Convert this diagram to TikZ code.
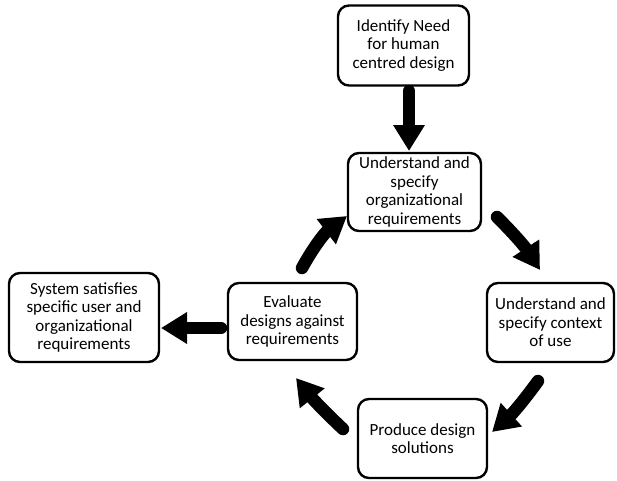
\documentclass[tikz,border=0pt]{standalone}
\usepackage{fontspec}
\setmainfont{Carlito}
\usetikzlibrary{arrows.meta}

\begin{document}
\begin{tikzpicture}[x=1pt,y=-1pt,
  stage/.style={draw=black, line width=2.4pt, rounded corners=11pt, fill=white,
    align=center, inner sep=2pt,
    font=\fontsize{17}{18.6}\selectfont},
  flow/.style={line width=12.5pt, line cap=round, draw=black,
    -{Triangle[length=26pt, width=30pt]}}]

  \useasboundingbox (0,0) rectangle (617,480);

  % process stages
  \node[stage, minimum width=131pt, minimum height=80pt] (need) at (403.5,45.5)
    {Identify Need\\for human\\centred design};
  \node[stage, minimum width=133pt, minimum height=78pt] (org) at (414.5,192)
    {Understand and\\specify\\organizational\\requirements};
  \node[stage, minimum width=127pt, minimum height=79pt] (ctx) at (550.5,322.5)
    {Understand and\\specify context\\of use};
  \node[stage, minimum width=129pt, minimum height=79pt] (prod) at (422.5,438.5)
    {Produce design\\solutions};
  \node[stage, minimum width=129pt, minimum height=77pt] (eval) at (292.5,321.5)
    {Evaluate\\designs against\\requirements};
  \node[stage, minimum width=150pt, minimum height=89pt] (sys) at (84,317.5)
    {System satisfies\\specific user and\\organizational\\requirements};

  % arrow end points between the stages
  \coordinate (needOut) at (409,91);
  \coordinate (orgIn)   at (409,151);
  \coordinate (orgOut)  at (497,217);
  \coordinate (ctxIn)   at (540,270);
  \coordinate (ctxOut)  at (538,381);
  \coordinate (prodIn)  at (492,432);
  \coordinate (prodOut) at (343,429);
  \coordinate (evalIn)  at (296,378);
  \coordinate (evalUp)  at (302,268);
  \coordinate (orgBack) at (347,216);
  \coordinate (evalOut) at (221,328);
  \coordinate (sysIn)   at (161,328);

  % connectors
  \draw[flow] (needOut) -- (orgIn);
  \draw[flow] (orgOut) to[bend left=6] (ctxIn);
  \draw[flow] (ctxOut) to[bend left=6] (prodIn);
  \draw[flow] (prodOut) to[bend left=4] (evalIn);
  \draw[flow] (evalUp) to[bend left=12] (orgBack);
  \draw[flow] (evalOut) -- (sysIn);
\end{tikzpicture}
\end{document}
